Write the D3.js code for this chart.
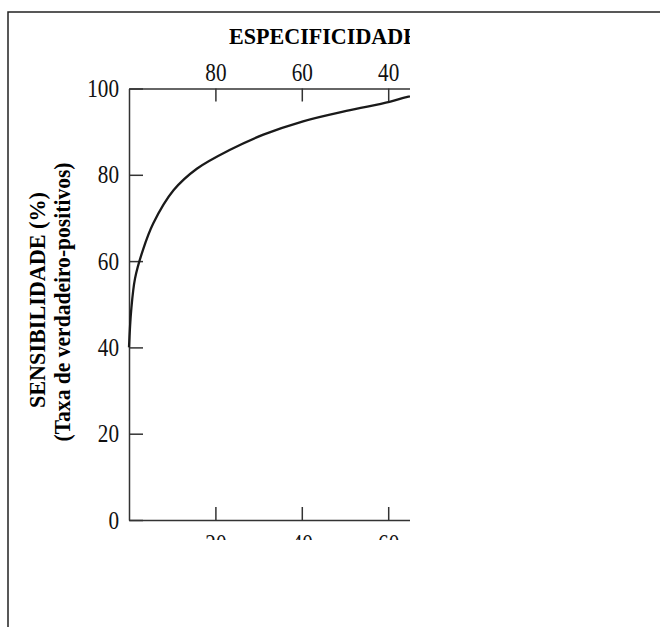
<!DOCTYPE html>
<html lang="pt">
<head>
    <meta charset="UTF-8">
    <title>ROC</title>
    <script src="https://d3js.org/d3.v7.min.js"></script>
    <style>
        body {margin: 0; background: #fff;}
        text {font-family: "Liberation Serif", "DejaVu Serif", serif;}
    </style>
</head>
<body>
<script>
    const width = 660;
    const height = 627;

    // 1 - especificidade (%) and sensibilidade (%)
    const fpr  = [0, 0.5, 1.4, 3.2, 5.6, 10.3, 15.7, 23.4, 31.1, 40.3, 50.3, 60.3, 64.7, 80, 100];
    const sens = [40, 48.5, 56, 62.5, 68.7, 76.4, 81.4, 85.8, 89.3, 92.4, 94.8, 96.9, 98.1, 99.3, 100];

    const bottomTicks = [20, 40, 60, 80, 100];
    const topTicks = [80, 60, 40, 20, 0];
    const leftTicks = [0, 20, 40, 60, 80, 100];

    const titleTop = "ESPECIFICIDADE";
    const labelY1 = "SENSIBILIDADE (%)";
    const labelY2 = "(Taxa de verdadeiro-positivos)";

    const plot = {left: 129, top: 88.5, right: 561, bottom: 520};

    const svg = d3.select("body").append("svg")
            .attr("width", width).attr("height", height);

    // outer frame (larger than the window)
    svg.append("rect")
            .attr("x", 8).attr("y", 12)
            .attr("width", 800).attr("height", 800)
            .style("fill", "none")
            .style("stroke", "#222")
            .style("stroke-width", 1.5);

    svg.append("clipPath").attr("id", "cut")
            .append("rect")
            .attr("x", 0).attr("y", 0)
            .attr("width", 410).attr("height", 540);

    const g = svg.append("g").attr("clip-path", "url(#cut)");

    const x = d3.scaleLinear().domain([0, 100]).range([plot.left, plot.right]);
    const xTop = d3.scaleLinear().domain([100, 0]).range([plot.left, plot.right]);
    const y = d3.scaleLinear().domain([0, 100]).range([plot.bottom, plot.top]);

    // tall, narrow digits like the scanned original
    function styleAxis(sel) {
        sel.select(".domain").style("stroke", "#333").style("stroke-width", 1.5);
        sel.selectAll(".tick line").style("stroke", "#333").style("stroke-width", 1.5);
        sel.selectAll(".tick text")
                .style("font-family", "'Liberation Serif', serif")
                .style("font-size", "25px")
                .style("fill", "#111")
                .attr("lengthAdjust", "spacingAndGlyphs")
                .attr("textLength", function() { return this.textContent.length * 10.6; });
    }

    g.append("g")
            .attr("transform", `translate(0,${plot.bottom})`)
            .call(d3.axisBottom(x).tickValues(bottomTicks).tickSize(-13).tickSizeOuter(0).tickPadding(14))
            .call(styleAxis);

    g.append("g")
            .attr("transform", `translate(0,${plot.top})`)
            .call(d3.axisTop(xTop).tickValues(topTicks).tickSize(-13).tickSizeOuter(0).tickPadding(8))
            .call(styleAxis);

    g.append("g")
            .attr("transform", `translate(${plot.left},0)`)
            .call(d3.axisLeft(y).tickValues(leftTicks).tickSize(-14).tickSizeOuter(0).tickPadding(10))
            .call(styleAxis);

    // the curve
    const line = d3.line()
            .x((d, i) => x(fpr[i]))
            .y(d => y(d))
            .curve(d3.curveCatmullRom.alpha(0.5));

    g.append("path")
            .datum(sens)
            .attr("d", line)
            .style("fill", "none")
            .style("stroke", "#1a1a1a")
            .style("stroke-width", 2.3);

    // titles
    g.append("text")
            .attr("x", 229).attr("y", 44)
            .attr("textLength", 189).attr("lengthAdjust", "spacingAndGlyphs")
            .style("font-size", "23px").style("font-weight", "bold")
            .text(titleTop);

    g.append("text")
            .attr("transform", "translate(45,300) rotate(-90)")
            .attr("text-anchor", "middle")
            .attr("textLength", 216).attr("lengthAdjust", "spacingAndGlyphs")
            .style("font-size", "23px").style("font-weight", "bold")
            .text(labelY1);

    g.append("text")
            .attr("transform", "translate(70,302) rotate(-90)")
            .attr("text-anchor", "middle")
            .attr("textLength", 279).attr("lengthAdjust", "spacingAndGlyphs")
            .style("font-size", "23px").style("font-weight", "bold")
            .text(labelY2);
</script>
</body>
</html>
